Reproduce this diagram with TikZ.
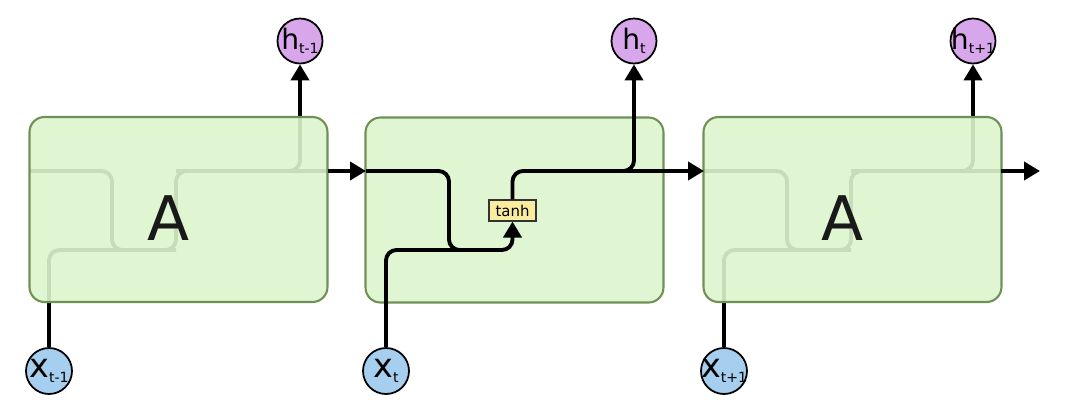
\documentclass[tikz,border=0pt]{standalone}
\usepackage{fontspec}
\setmainfont{DejaVu Sans}
\usetikzlibrary{positioning,arrows.meta,calc,backgrounds}
\definecolor{cellfill}{HTML}{DDF5CD}
\definecolor{celldraw}{HTML}{6F9155}
\definecolor{hfill}{HTML}{D8A6EA}
\definecolor{xfill}{HTML}{A6CEEE}
\definecolor{gatefill}{HTML}{F9EBA0}

\begin{document}
\begin{tikzpicture}[
      x=0.02cm, y=-0.02cm,
      cell/.style={draw=celldraw, line width=1.2pt, fill=cellfill,
                   fill opacity=0.9, rounded corners=8.5pt,
                   minimum width=5.96cm, minimum height=3.7cm},
      hnode/.style={circle, draw=black, line width=1pt, fill=hfill,
                    minimum size=0.9cm, inner sep=-2pt,
                    font=\fontsize{16}{16}\selectfont},
      xnode/.style={circle, draw=black, line width=1pt, fill=xfill,
                    minimum size=0.92cm, inner sep=-3pt,
                    font=\fontsize{19}{19}\selectfont},
      gate/.style={draw=black!80, line width=0.6pt, fill=gatefill,
                   minimum width=0.94cm, minimum height=0.42cm,
                   inner sep=1pt, font=\fontsize{8.5}{9}\selectfont},
      biglabel/.style={anchor=base, font=\fontsize{35}{35}\selectfont, text=black!90},
      wire/.style={line width=2.2pt, rounded corners=6pt},
      darrow/.style={wire, -{Triangle[length=3.2mm,width=3.6mm]}},
    ]
      \useasboundingbox (0,0) rectangle (1069,413);

      % outputs and inputs
      \node[hnode] (hL) at (300,41) {h{\fontsize{8}{8}\selectfont\raisebox{-2.5pt}{t-1}}};
      \node[hnode] (hM) at (634,41) {h{\fontsize{8}{8}\selectfont\raisebox{-2.5pt}{t}}};
      \node[hnode] (hR) at (973,41) {h{\fontsize{8}{8}\selectfont\raisebox{-2.5pt}{t+1}}};
      \node[xnode] (xL) at (49,371) {x{\fontsize{8}{8}\selectfont\raisebox{-2.5pt}{t-1}}};
      \node[xnode] (xM) at (386,371) {x{\fontsize{8}{8}\selectfont\raisebox{-2.5pt}{t}}};
      \node[xnode] (xR) at (724,371) {x{\fontsize{8}{8}\selectfont\raisebox{-2.5pt}{t+1}}};

      \coordinate (inL) at (29,171);
      \coordinate (outL) at (328,171);
      \coordinate (inM) at (366,171);
      \coordinate (outM) at (663,171);
      \coordinate (jM) at (634,171);
      \coordinate (inR) at (704,171);
      \coordinate (outR) at (1001,171);
      \coordinate (endR) at (1040,171);

      % wiring seen through the outer cells
      \begin{scope}[on background layer]
        \draw[darrow] (inL) -- (112,171) -- (112,250) -- (176,250) -- (176,171) -- (300,171) -- (hL.south);
        \draw[wire] (176,171) -- (outL);
        \draw[wire] (xL.north) |- (176,250);
        \draw[darrow] (inR) -- (787,171) -- (787,250) -- (851,250) -- (851,171) -- (973,171) -- (hR.south);
        \draw[wire] (851,171) -- (outR);
        \draw[wire] (xR.north) |- (851,250);
      \end{scope}

      \node[cell] (cellL) at (178.5,209.5) {};
      \node[cell] (cellM) at (514.5,210) {};
      \node[cell] (cellR) at (852.5,209.5) {};
      \node[biglabel] (labL) at (169,240) {A};
      \node[biglabel] (labR) at (843,240) {A};

      \node[gate] (tanhM) at (512.5,210.5) {tanh};

      % middle cell
      \draw[wire] (xM.north) |- (480,250);
      \draw[darrow] (inM) -- (449,171) -- (449,250) -- (512.5,250) -- (tanhM.south);
      \draw[darrow] (tanhM.north) |- (jM) -- (hM.south);
      \draw[darrow] (560,171) -- (inR);

      \draw[darrow] (outL) -- (inM);
      \draw[darrow] (outR) -- (endR);
    \end{tikzpicture}
\end{document}
